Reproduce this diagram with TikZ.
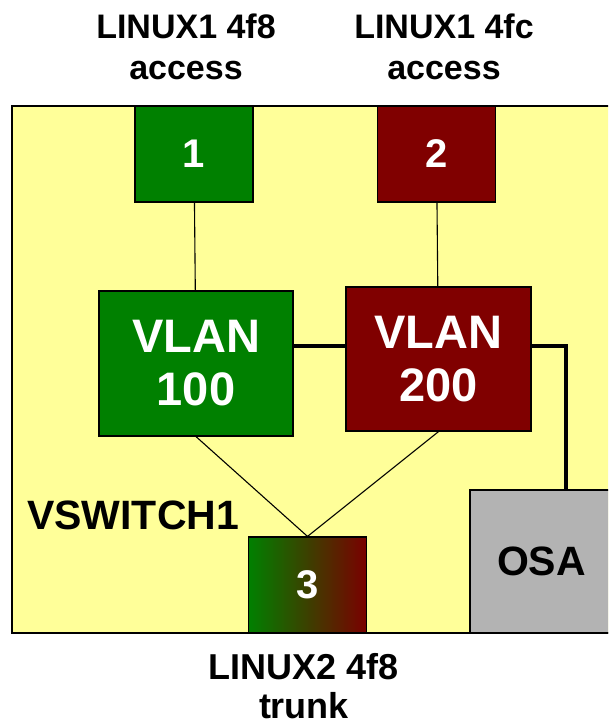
\documentclass[tikz,border=0pt]{standalone}
\usepackage{fontspec}
\setmainfont{Liberation Sans}
\usepackage{tikz}
\usetikzlibrary{positioning}
\definecolor{vlangreen}{RGB}{0,128,0}
\definecolor{vlanred}{RGB}{128,0,0}
\definecolor{switchyellow}{RGB}{255,255,153}
\definecolor{osagray}{RGB}{179,179,179}
\tikzset{VSstyle/.style={
    x=1pt,y=-1pt,% pixel grid of the drawing
    every node/.style={inner sep=0pt,font=\bfseries},
    box/.style={% shared look of all boxes
      draw=black,
      line width=1.2pt,
      text=white
    },
    port/.style={box,minimum width=118pt,minimum height=96pt,
      font=\fontsize{40}{46}\selectfont\bfseries},
    vlan/.style={box,align=center,
      font=\fontsize{47}{53}\selectfont\bfseries},
    guest/.style={align=center,
      font=\fontsize{34}{41}\selectfont\bfseries},
    link/.style={draw=black,line width=1.1pt},
    uplink/.style={draw=black,line width=3.5pt}
  }
}
\begin{document}
\begin{tikzpicture}[VSstyle]
  \useasboundingbox (0,0) rectangle (608,727);
  \clip (0,0) rectangle (608,727);
  % the switch
  \filldraw[fill=switchyellow,draw=black,line width=1.2pt] (12,106) rectangle (640,633);
  \node[anchor=base west,font=\fontsize{41}{48}\selectfont\bfseries] (vsname) at (27,529) {VSWITCH1};
  % ports and vlans
  \node[port,fill=vlangreen] (port1) at (194,154) {1};
  \node[port,fill=vlanred] (port2) at (436.5,154) {2};
  \node[port,left color=vlangreen,right color=vlanred!95!black] (port3) at (307.5,585) {3};
  \node[vlan,fill=vlangreen,minimum width=194pt,minimum height=145pt] (vlan100) at (196,363.5) {VLAN\\100};
  \node[vlan,fill=vlanred,minimum width=185pt,minimum height=144pt] (vlan200) at (438.5,359) {VLAN\\200};
  \node[box,fill=osagray,text=black,minimum width=143pt,minimum height=143pt,
    font=\fontsize{41}{48}\selectfont\bfseries] (osa) at (541.5,561.5) {OSA};
  % guest labels
  \node[guest] (linux1a) at (186,47) {LINUX1 4f8\\access};
  \node[guest] (linux1b) at (444,47) {LINUX1 4fc\\access};
  \node[guest,font=\fontsize{36}{39}\selectfont\bfseries] (linux2) at (304,686) {LINUX2 4f8\\trunk};
  % connections
  \path[link] (port1) edge (vlan100)
              (port2) edge (vlan200)
              (vlan100.south) edge (port3.north)
              (vlan200.south) edge (port3.north);
  \coordinate (corner) at (566,346);
  \draw[uplink] (vlan100.east |- corner) -- (vlan200.west |- corner);
  \draw[uplink] (vlan200.east |- corner) -- (corner) -- (osa.north -| corner);
\end{tikzpicture}
\end{document}
